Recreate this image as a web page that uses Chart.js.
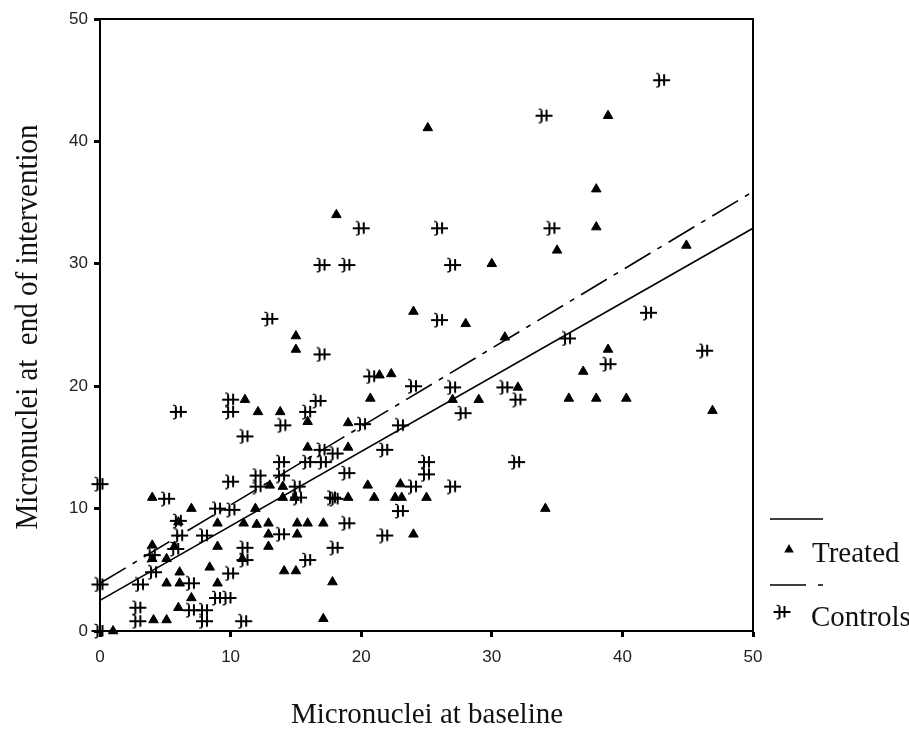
<!DOCTYPE html>
<html>
<head>
<meta charset="utf-8">
<script src="https://cdn.jsdelivr.net/npm/chart.js@4.4.0/dist/chart.umd.min.js"></script>
<style>
  html, body { margin: 0; padding: 0; background: #fff; }
  #wrap { width: 909px; height: 739px; position: relative; }
</style>
</head>
<body>
<div id="wrap"><canvas id="scatterChart"></canvas></div>
<script>
// Treated group (triangles)
const treatedX = [25.1, 38.9, 38, 38, 44.9, 35, 30, 18.1, 24, 28, 31, 15, 15, 38.9, 37, 21.4, 22.3,
  35.9, 38, 40.3, 46.9, 32, 20.7, 27, 29, 11.1, 12.1, 13.8, 15.9, 19, 15.9, 19, 34.1,
  13, 14, 14, 14.9, 20.5, 23, 21, 22.6, 23.1, 25, 19, 11.9, 4, 7, 6, 9, 11, 12, 12.9,
  15.1, 15.9, 17.1, 12.9, 15.1, 12.9, 24, 14.1, 15, 17.8, 17.1, 5.7, 9, 4, 5.1, 10.9,
  8.4, 6.1, 5.1, 6.1, 9, 7, 6, 4.1, 5.1, 1, 4];
const treatedY = [41.1, 42.1, 36.1, 33, 31.5, 31.1, 30, 34, 26.1, 25.1, 24, 24.1, 23, 23, 21.2, 20.9, 21,
  19, 19, 19, 18, 19.9, 19, 18.9, 18.9, 18.9, 17.9, 17.9, 17.1, 17, 15, 15, 10,
  11.9, 11.8, 10.9, 10.9, 11.9, 12, 10.9, 10.9, 10.9, 10.9, 10.9, 10, 10.9, 10, 8.9, 8.8, 8.8, 8.7, 8.8,
  8.8, 8.8, 8.8, 7.9, 7.9, 6.9, 7.9, 4.9, 4.9, 4, 1, 6.9, 6.9, 7, 5.9, 5.9,
  5.2, 4.8, 3.9, 3.9, 3.9, 2.7, 1.9, 0.9, 0.9, 0, 5.9];

// Control group (stars)
const controlX = [43, 34, 20, 26, 34.6, 17, 18.9, 27, 13, 26, 42, 35.8, 17, 20.8, 38.9, 46.3, 24, 27,
  31, 32, 27.8, 20.1, 23, 18, 21.8, 25, 25, 18.9, 31.9, 24, 27, 18, 23, 18.9, 21.8, 18,
  16.7, 15.9, 14, 17, 13.9, 15.9, 17.1, 13.9, 12.1, 12.1, 15.1, 15.2, 17.8, 13.9, 15.9,
  0, 11.1, 10, 5.1, 9, 10.1, 6, 6.1, 8, 5.8, 11.1, 4, 11.1, 4.1, 10, 3.1, 0, 7, 9, 9.8,
  2.9, 7, 8, 2.9, 8, 11, 0, 10, 10, 6];
const controlY = [45, 42.1, 32.9, 32.9, 32.9, 29.9, 29.9, 29.9, 25.5, 25.4, 26, 23.9, 22.6, 20.8, 21.8, 22.9, 20, 19.9,
  19.9, 18.9, 17.8, 16.9, 16.8, 14.5, 14.8, 13.8, 12.8, 12.9, 13.8, 11.8, 11.8, 10.8, 9.8, 8.8, 7.8, 6.8,
  18.8, 17.9, 16.8, 14.8, 13.8, 13.8, 13.8, 12.7, 12.7, 11.8, 11.8, 10.9, 10.9, 7.9, 5.8,
  12, 15.9, 12.2, 10.8, 10, 9.9, 9, 7.8, 7.8, 6.7, 6.8, 6.2, 5.8, 4.8, 4.7, 3.8, 3.8, 3.9, 2.7, 2.7,
  1.9, 1.7, 1.7, 0.8, 0.8, 0.8, 0, 18.9, 17.9, 17.9];

// Regression lines (end points read at x = 0 and x = 50)
const fitX = [0, 50];
const treatedFitY = [2.5, 32.9];
const controlFitY = [3.9, 35.9];

const axisTicks = [0, 10, 20, 30, 40, 50];
const xTitle = 'Micronuclei at baseline';
const yTitle = 'Micronuclei at  end of intervention';
const legendLabels = ['Treated', 'Controls'];

const controlDash = [30, 8, 5, 8];

function toPoints(xs, ys) {
    return xs.map((x, i) => ({ x: x, y: ys[i] }));
}

// Marker used by SPSS for the controls
function makeStarMarker() {
    const c = document.createElement('canvas');
    c.width = 19;
    c.height = 16;
    const g = c.getContext('2d');
    g.strokeStyle = '#000';
    g.lineWidth = 2;
    g.beginPath();
    g.moveTo(1, 8); g.lineTo(18, 8);
    g.moveTo(7, 2.5); g.lineTo(7, 14);
    g.moveTo(12, 2); g.lineTo(12, 13.5);
    g.stroke();
    g.lineWidth = 1.4;
    g.beginPath();
    g.moveTo(7, 2.5); g.quadraticCurveTo(6, 1, 4.2, 1.5);
    g.moveTo(7, 14); g.quadraticCurveTo(6, 15.2, 4.2, 14.8);
    g.stroke();
    return c;
}
const starMarker = makeStarMarker();

function drawTriangle(ctx, x, y, r) {
    ctx.beginPath();
    ctx.moveTo(x, y - r);
    ctx.lineTo(x + r * 0.95, y + r * 0.7);
    ctx.lineTo(x - r * 0.95, y + r * 0.7);
    ctx.closePath();
    ctx.fill();
}

// Box, axis titles and legend
const decorPlugin = {
    id: 'decor',
    afterDraw(chart) {
        const ctx = chart.ctx;
        const a = chart.chartArea;
        ctx.save();
        ctx.strokeStyle = '#000';
        ctx.lineWidth = 2;
        ctx.beginPath();
        ctx.moveTo(a.left, a.top);
        ctx.lineTo(a.right, a.top);
        ctx.lineTo(a.right, a.bottom);
        ctx.stroke();

        ctx.fillStyle = '#111';
        ctx.font = '29px "Liberation Serif", "Times New Roman", serif';
        ctx.textAlign = 'center';
        ctx.textBaseline = 'alphabetic';
        ctx.fillText(xTitle, 427, 723);

        ctx.save();
        ctx.translate(37, 327);
        ctx.rotate(-Math.PI / 2);
        ctx.scale(1, 1.1);
        ctx.fillText(yTitle, 0, 0);
        ctx.restore();

        // legend
        ctx.strokeStyle = '#000';
        ctx.lineWidth = 1.6;
        ctx.beginPath();
        ctx.moveTo(770, 519); ctx.lineTo(823, 519);
        ctx.stroke();
        ctx.fillStyle = '#000';
        drawTriangle(ctx, 789, 549, 5);

        ctx.beginPath();
        ctx.moveTo(770, 585); ctx.lineTo(806, 585);
        ctx.moveTo(818, 585); ctx.lineTo(823, 585);
        ctx.stroke();
        ctx.drawImage(starMarker, 782 - 9.5, 612 - 8);

        ctx.fillStyle = '#111';
        ctx.textAlign = 'left';
        ctx.fillText(legendLabels[0], 812, 562);
        ctx.fillText(legendLabels[1], 811, 626);
        ctx.restore();
    }
};

function axisOptions(extraFit, pad) {
    return {
        type: 'linear',
        min: 0,
        max: 50,
        afterBuildTicks: scale => { scale.ticks = axisTicks.map(v => ({ value: v })); },
        afterFit: extraFit,
        ticks: {
            color: '#222',
            font: { family: '"Liberation Sans", Arial, sans-serif', size: 17 },
            padding: pad
        },
        grid: {
            display: true,
            drawOnChartArea: false,
            drawTicks: true,
            tickLength: 6,
            tickWidth: 3,
            tickColor: '#000'
        },
        border: { display: true, color: '#000', width: 2 },
        title: { display: false }
    };
}

const ctx = document.getElementById('scatterChart').getContext('2d');
const scatterChart = new Chart(ctx, {
    type: 'scatter',
    data: {
        datasets: [
            {
                label: 'Treated fit',
                data: toPoints(fitX, treatedFitY),
                showLine: true,
                borderColor: '#000',
                borderWidth: 1.6,
                pointRadius: 0,
                fill: false
            },
            {
                label: 'Controls fit',
                data: toPoints(fitX, controlFitY),
                showLine: true,
                borderColor: '#000',
                borderWidth: 1.6,
                borderDash: controlDash,
                pointRadius: 0,
                fill: false
            },
            {
                label: legendLabels[0],
                data: toPoints(treatedX, treatedY),
                pointStyle: 'triangle',
                pointRadius: 5.5,
                backgroundColor: '#000',
                borderColor: '#000',
                pointBorderWidth: 1,
                clip: 12
            },
            {
                label: legendLabels[1],
                data: toPoints(controlX, controlY),
                pointStyle: starMarker,
                pointRadius: 8,
                backgroundColor: '#000',
                borderColor: '#000',
                clip: 12
            }
        ]
    },
    options: {
        responsive: true,
        maintainAspectRatio: false,
        animation: false,
        events: [],
        layout: { padding: { left: 0, top: 19, right: 156, bottom: 0 } },
        scales: {
            x: axisOptions(scale => { scale.height = 108; }, 10),
            y: axisOptions(scale => { scale.width = 100; }, 6)
        },
        plugins: {
            legend: { display: false },
            tooltip: { enabled: false },
            title: { display: false }
        }
    },
    plugins: [decorPlugin]
});
</script>
</body>
</html>
